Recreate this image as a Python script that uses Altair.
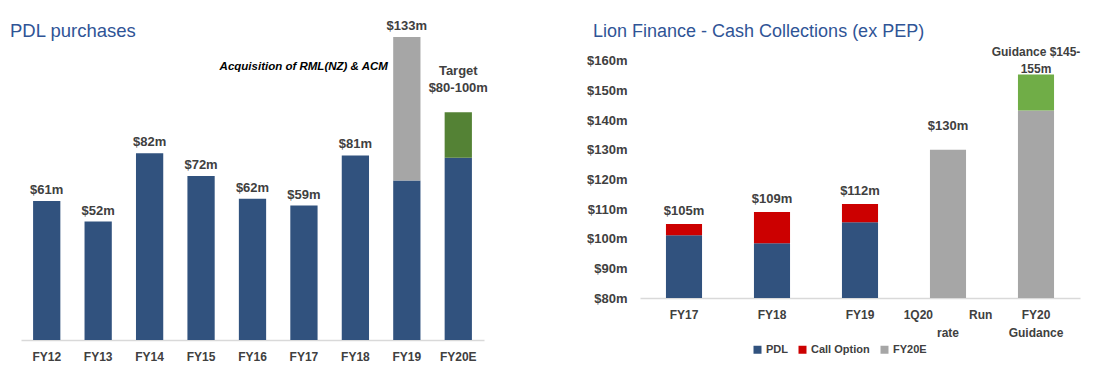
import altair as alt
import pandas as pd

FONT = "Liberation Sans, Arial, sans-serif"
TXT = "#404040"
TITLE_C = "#2F5496"

# ---------------- Left chart: PDL purchases ----------------
pdl_title = "PDL purchases"
pdl_years = ["FY12", "FY13", "FY14", "FY15", "FY16", "FY17", "FY18", "FY19", "FY20E"]
pdl_base = [61, 52, 82, 72, 62, 59, 81, 70, 80]
pdl_acq = [0, 0, 0, 0, 0, 0, 0, 63, 0]
pdl_target = [0, 0, 0, 0, 0, 0, 0, 0, 20]
pdl_labels = ["$61m", "$52m", "$82m", "$72m", "$62m", "$59m", "$81m", "$133m", ""]
target_label = ["Target", "$80-100m"]
acq_note = "Acquisition of RML(NZ) & ACM"
acq_note_year = "FY19"
acq_note_value = 118.5

# ---------------- Right chart: Lion Finance ----------------
lf_title = "Lion Finance - Cash Collections (ex PEP)"
lf_cats = ["FY17", "FY18", "FY19", "1Q20 Run rate", "FY20 Guidance"]
lf_pdl = [101.2, 98.5, 105.6, 0, 0]
lf_call = [3.8, 10.5, 6.1, 0, 0]
lf_fy20e = [0, 0, 0, 130, 143.3]
lf_guid = [0, 0, 0, 0, 12.1]
lf_labels = ["$105m", "$109m", "$112m", "", ""]
runrate_label = "$130m"
guid_label = ["Guidance $145-", "155m"]
lf_ticks = [80, 90, 100, 110, 120, 130, 140, 150, 160]
lf_axis_min = 80

# ---------------- build tables ----------------
rows = []
for i, y in enumerate(pdl_years):
    s = 0
    for seg, v in (("PDL", pdl_base[i]), ("Acquisition", pdl_acq[i]), ("Target", pdl_target[i])):
        if v > 0:
            rows.append({"year": y, "seg": seg, "start": s, "end": s + v})
            s += v
left_df = pd.DataFrame(rows)
left_lab = pd.DataFrame([
    {"year": y, "end": pdl_base[i] + pdl_acq[i] + pdl_target[i], "label": pdl_labels[i]}
    for i, y in enumerate(pdl_years) if pdl_labels[i]
])
left_target = pd.DataFrame([{"year": pdl_years[-1], "end": pdl_base[-1] + pdl_target[-1], "label": target_label}])
left_note = pd.DataFrame([{"year": acq_note_year, "end": acq_note_value, "label": acq_note}])

xL = alt.X("year:N", sort=pdl_years, title=None,
           scale=alt.Scale(paddingInner=0.47, paddingOuter=0.235),
           axis=alt.Axis(labelAngle=0, ticks=False, domainColor="#D9D9D9", domainWidth=1.5,
                         labelPadding=11, labelFontSize=12, labelFontWeight="bold",
                         labelColor=TXT, labelFont=FONT))
yL = alt.Y("end:Q", title=None, scale=alt.Scale(domain=[0, 140]), axis=None)

left_bars = alt.Chart(left_df).mark_bar().encode(
    x=xL, y=yL, y2="start:Q",
    color=alt.Color("seg:N", scale=alt.Scale(domain=["PDL", "Acquisition", "Target"],
                                             range=["#31527E", "#A6A6A6", "#548235"]), legend=None),
)
left_text = alt.Chart(left_lab).mark_text(font=FONT, fontSize=13, fontWeight="bold", color=TXT,
                                          baseline="alphabetic", dy=-7).encode(
    x=xL, y=yL, text="label:N")
left_tgt = alt.Chart(left_target).mark_text(font=FONT, fontSize=13, fontWeight="bold", color=TXT,
                                            baseline="bottom", lineHeight=17, dy=-34).encode(
    x=xL, y=yL, text="label")
left_ann = alt.Chart(left_note).mark_text(font=FONT, fontSize=11.5, fontWeight="bold", fontStyle="italic",
                                          color="#000000", align="right", baseline="alphabetic", dx=-19).encode(
    x=xL, y=yL, text="label:N")
left_ttl = alt.Chart(pd.DataFrame({"t": [pdl_title]})).mark_text(
    font=FONT, fontSize=18.5, color=TITLE_C, align="left", baseline="alphabetic").encode(
    x=alt.value(-11), y=alt.value(16), text="t:N")

left = alt.layer(left_bars, left_text, left_tgt, left_ann, left_ttl).properties(width=463, height=319)

# ---------------- right ----------------
rrows = []
for i, c in enumerate(lf_cats):
    s = 0
    for seg, v in (("PDL", lf_pdl[i]), ("Call Option", lf_call[i]), ("FY20E", lf_fy20e[i]), ("Guidance", lf_guid[i])):
        if v > 0:
            rrows.append({"cat": c, "seg": seg, "start": max(s, lf_axis_min), "end": s + v})
            s += v
right_df = pd.DataFrame(rrows)
tot = [lf_pdl[i] + lf_call[i] + lf_fy20e[i] + lf_guid[i] for i in range(len(lf_cats))]
right_lab = pd.DataFrame([{"cat": c, "end": tot[i], "label": lf_labels[i]}
                          for i, c in enumerate(lf_cats) if lf_labels[i]])
right_rr = pd.DataFrame([{"cat": lf_cats[3], "end": tot[3], "label": runrate_label}])
right_gd = pd.DataFrame([{"cat": lf_cats[4], "end": tot[4], "label": guid_label}])

label_expr = ("datum.value == '1Q20 Run rate' ? ['1Q20\u2003\u2003\u2003Run', 'rate'] : "
              "datum.value == 'FY20 Guidance' ? ['FY20', 'Guidance'] : datum.value")
xR = alt.X("cat:N", sort=lf_cats, title=None,
           scale=alt.Scale(paddingInner=0.59, paddingOuter=0.295),
           axis=alt.Axis(labelAngle=0, ticks=False, domainColor="#D9D9D9", domainWidth=1.5,
                         labelPadding=11, labelFontSize=12, labelFontWeight="bold", labelColor=TXT,
                         labelFont=FONT, labelExpr=label_expr, labelLineHeight=18))
yR = alt.Y("end:Q", title=None, scale=alt.Scale(domain=[80, 173.5], nice=False, zero=False),
           axis=alt.Axis(values=lf_ticks, labelExpr="'$' + datum.value + 'm'", domain=False, ticks=False,
                         grid=False, labelPadding=13, labelFontSize=13, labelFontWeight="bold",
                         labelColor=TXT, labelFont=FONT, labelOverlap=False))
right_bars = alt.Chart(right_df).mark_bar().encode(
    x=xR, y=yR, y2="start:Q",
    color=alt.Color("seg:N",
                    scale=alt.Scale(domain=["PDL", "Call Option", "FY20E", "Guidance"],
                                    range=["#31527E", "#CC0000", "#A6A6A6", "#70AD47"]),
                    legend=alt.Legend(title=None, orient="none", direction="horizontal",
                                      values=["PDL", "Call Option", "FY20E"], legendX=112, legendY=323,
                                      symbolType="square", symbolSize=64, symbolStrokeWidth=0,
                                      labelFont=FONT, labelFontSize=11, labelFontWeight="bold",
                                      labelColor=TXT, columnPadding=9, labelOffset=3, padding=0)),
)
right_text = alt.Chart(right_lab).mark_text(font=FONT, fontSize=13, fontWeight="bold", color=TXT,
                                            baseline="alphabetic", dy=-9).encode(
    x=xR, y=yR, text="label:N")
right_rrt = alt.Chart(right_rr).mark_text(font=FONT, fontSize=13, fontWeight="bold", color=TXT,
                                          baseline="alphabetic", dy=-20).encode(
    x=xR, y=yR, text="label:N")
right_gdt = alt.Chart(right_gd).mark_text(font=FONT, fontSize=12, fontWeight="bold", color=TXT,
                                          baseline="bottom", lineHeight=17, dy=-16).encode(
    x=xR, y=yR, text="label")
right_ttl = alt.Chart(pd.DataFrame({"t": [lf_title]})).mark_text(
    font=FONT, fontSize=18, color=TITLE_C, align="left", baseline="alphabetic").encode(
    x=alt.value(-47), y=alt.value(16), text="t:N")

right = alt.layer(right_bars, right_text, right_rrt, right_gdt, right_ttl).properties(width=440, height=277)

chart = alt.hconcat(left, right, spacing=156, bounds="flush").properties(
    padding={"left": 2, "top": 11, "right": 0, "bottom": 0}
).configure_view(stroke=None).resolve_scale(color="independent")

chart.save("out.html", embed_options={"renderer": "svg", "actions": False})
